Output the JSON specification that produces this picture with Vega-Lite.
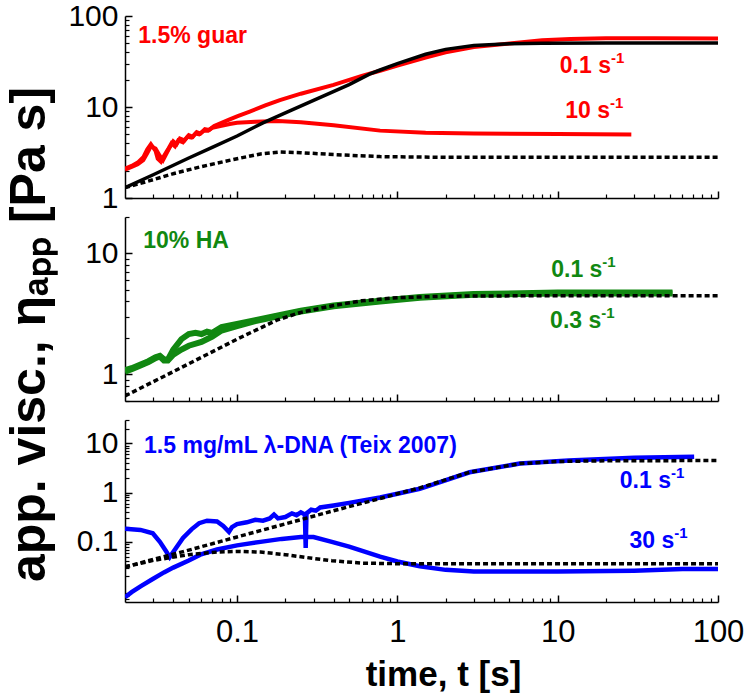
{
  "$schema": "https://vega.github.io/schema/vega-lite/v6.json",
  "autosize": "none",
  "padding": {"left": 125, "top": 16, "right": 32, "bottom": 682},
  "config": {
    "view": {"stroke": null},
    "font": "Liberation Sans",
    "axis": {"grid": false, "domainColor": "black", "domainWidth": 1.5, "tickColor": "black", "labelColor": "black", "titleColor": "black", "labelFont": "Liberation Sans", "titleFont": "Liberation Sans", "labelOverlap": false, "labelFlush": false}
  },
  "datasets": {
    "guar": [
      {"s":"a","t":0.02,"v":2.05},{"s":"a","t":0.022,"v":2.2},{"s":"a","t":0.024,"v":2.35},{"s":"a","t":0.026,"v":2.6},{"s":"a","t":0.0275,"v":3.1},{"s":"a","t":0.029,"v":3.7},{"s":"a","t":0.031,"v":3.5},{"s":"a","t":0.033,"v":2.9},{"s":"a","t":0.0345,"v":2.6},{"s":"a","t":0.036,"v":3.0},{"s":"a","t":0.038,"v":3.6},{"s":"a","t":0.04,"v":4.2},{"s":"a","t":0.042,"v":3.9},{"s":"a","t":0.044,"v":4.5},{"s":"a","t":0.047,"v":4.3},{"s":"a","t":0.05,"v":4.9},{"s":"a","t":0.053,"v":4.7},{"s":"a","t":0.056,"v":5.3},{"s":"a","t":0.059,"v":5.1},{"s":"a","t":0.063,"v":5.7},{"s":"a","t":0.067,"v":5.6},{"s":"a","t":0.072,"v":6.2},{"s":"a","t":0.08,"v":6.7},{"s":"a","t":0.09,"v":7.3},{"s":"a","t":0.1,"v":7.9},{"s":"a","t":0.12,"v":8.9},{"s":"a","t":0.15,"v":10.4},{"s":"a","t":0.185,"v":11.9},{"s":"a","t":0.25,"v":14},{"s":"a","t":0.4,"v":17.5},{"s":"a","t":0.6,"v":22},{"s":"a","t":0.78,"v":25},{"s":"a","t":1,"v":28.5},{"s":"a","t":1.5,"v":35},{"s":"a","t":2,"v":40},{"s":"a","t":3,"v":45.5},{"s":"a","t":5,"v":50},{"s":"a","t":8,"v":54},{"s":"a","t":12,"v":56},{"s":"a","t":20,"v":57},{"s":"a","t":40,"v":57},{"s":"a","t":100,"v":56.5},
      {"s":"b","t":0.02,"v":2.1},{"s":"b","t":0.022,"v":2.25},{"s":"b","t":0.024,"v":2.45},{"s":"b","t":0.026,"v":2.8},{"s":"b","t":0.0275,"v":3.4},{"s":"b","t":0.029,"v":3.9},{"s":"b","t":0.031,"v":3.3},{"s":"b","t":0.032,"v":2.7},{"s":"b","t":0.0335,"v":2.5},{"s":"b","t":0.035,"v":2.9},{"s":"b","t":0.037,"v":3.4},{"s":"b","t":0.039,"v":4.0},{"s":"b","t":0.041,"v":3.7},{"s":"b","t":0.043,"v":4.3},{"s":"b","t":0.046,"v":4.1},{"s":"b","t":0.049,"v":4.7},{"s":"b","t":0.052,"v":4.6},{"s":"b","t":0.055,"v":5.1},{"s":"b","t":0.058,"v":5.0},{"s":"b","t":0.062,"v":5.5},{"s":"b","t":0.066,"v":5.5},{"s":"b","t":0.07,"v":5.9},{"s":"b","t":0.08,"v":6.2},{"s":"b","t":0.09,"v":6.5},{"s":"b","t":0.1,"v":6.7},{"s":"b","t":0.13,"v":6.9},{"s":"b","t":0.18,"v":7.0},{"s":"b","t":0.25,"v":6.8},{"s":"b","t":0.4,"v":6.3},{"s":"b","t":0.78,"v":5.5},{"s":"b","t":1.5,"v":5.2},{"s":"b","t":3,"v":5.1},{"s":"b","t":10,"v":5.05},{"s":"b","t":28.8,"v":5.0}
    ],
    "guarSolid": [
      {"t":0.02,"v":1.3},{"t":0.03,"v":1.8},{"t":0.05,"v":2.75},{"t":0.07,"v":3.6},{"t":0.1,"v":4.8},{"t":0.145,"v":6.7},{"t":0.2,"v":8.6},{"t":0.3,"v":11.8},{"t":0.5,"v":17.6},{"t":0.67,"v":23},{"t":0.78,"v":25.5},{"t":1,"v":30},{"t":1.5,"v":38},{"t":2,"v":43},{"t":3,"v":47.5},{"t":5,"v":49.5},{"t":8,"v":50.2},{"t":20,"v":50.5},{"t":100,"v":50.5}
    ],
    "guarDash": [
      {"t":0.02,"v":1.3},{"t":0.0286,"v":1.55},{"t":0.04,"v":1.85},{"t":0.059,"v":2.2},{"t":0.095,"v":2.65},{"t":0.14,"v":3.05},{"t":0.185,"v":3.2},{"t":0.25,"v":3.15},{"t":0.4,"v":3.0},{"t":0.78,"v":2.85},{"t":2,"v":2.8},{"t":100,"v":2.8}
    ],
    "ha": [
      {"s":"a","t":0.02,"v":1.08},{"s":"a","t":0.022,"v":1.12},{"s":"a","t":0.025,"v":1.2},{"s":"a","t":0.028,"v":1.28},{"s":"a","t":0.031,"v":1.38},{"s":"a","t":0.033,"v":1.42},{"s":"a","t":0.035,"v":1.33},{"s":"a","t":0.037,"v":1.32},{"s":"a","t":0.04,"v":1.6},{"s":"a","t":0.045,"v":1.95},{"s":"a","t":0.05,"v":2.15},{"s":"a","t":0.055,"v":2.2},{"s":"a","t":0.06,"v":2.15},{"s":"a","t":0.065,"v":2.25},{"s":"a","t":0.07,"v":2.2},{"s":"a","t":0.08,"v":2.45},{"s":"a","t":0.1,"v":2.6},{"s":"a","t":0.13,"v":2.8},{"s":"a","t":0.177,"v":3.05},{"s":"a","t":0.25,"v":3.35},{"s":"a","t":0.4,"v":3.7},{"s":"a","t":0.78,"v":4.05},{"s":"a","t":1.38,"v":4.35},{"s":"a","t":3,"v":4.6},{"s":"a","t":10,"v":4.75},{"s":"a","t":52,"v":4.75},
      {"s":"b","t":0.02,"v":1.05},{"s":"b","t":0.022,"v":1.1},{"s":"b","t":0.025,"v":1.18},{"s":"b","t":0.028,"v":1.26},{"s":"b","t":0.031,"v":1.36},{"s":"b","t":0.033,"v":1.4},{"s":"b","t":0.035,"v":1.3},{"s":"b","t":0.037,"v":1.3},{"s":"b","t":0.04,"v":1.45},{"s":"b","t":0.045,"v":1.6},{"s":"b","t":0.05,"v":1.72},{"s":"b","t":0.06,"v":1.85},{"s":"b","t":0.07,"v":2.05},{"s":"b","t":0.08,"v":2.3},{"s":"b","t":0.1,"v":2.5},{"s":"b","t":0.13,"v":2.75},{"s":"b","t":0.177,"v":3.0},{"s":"b","t":0.25,"v":3.3},{"s":"b","t":0.4,"v":3.65},{"s":"b","t":0.78,"v":4.0},{"s":"b","t":1.38,"v":4.3},{"s":"b","t":3,"v":4.55},{"s":"b","t":10,"v":4.65},{"s":"b","t":52,"v":4.65}
    ],
    "haDash": [
      {"t":0.02,"v":0.66},{"t":0.05,"v":1.22},{"t":0.1,"v":1.95},{"t":0.177,"v":2.8},{"t":0.25,"v":3.25},{"t":0.4,"v":3.7},{"t":0.6,"v":4.05},{"t":1,"v":4.3},{"t":2,"v":4.42},{"t":5,"v":4.45},{"t":100,"v":4.45}
    ],
    "dna": [
      {"s":"a","t":0.02,"v":0.185},{"s":"a","t":0.025,"v":0.175},{"s":"a","t":0.0298,"v":0.15},{"s":"a","t":0.033,"v":0.1},{"s":"a","t":0.036,"v":0.065},{"s":"a","t":0.038,"v":0.049},{"s":"a","t":0.041,"v":0.07},{"s":"a","t":0.046,"v":0.12},{"s":"a","t":0.052,"v":0.18},{"s":"a","t":0.058,"v":0.24},{"s":"a","t":0.065,"v":0.27},{"s":"a","t":0.075,"v":0.26},{"s":"a","t":0.082,"v":0.21},{"s":"a","t":0.089,"v":0.16},{"s":"a","t":0.093,"v":0.2},{"s":"a","t":0.1,"v":0.23},{"s":"a","t":0.115,"v":0.25},{"s":"a","t":0.13,"v":0.28},{"s":"a","t":0.145,"v":0.27},{"s":"a","t":0.16,"v":0.3},{"s":"a","t":0.17,"v":0.36},{"s":"a","t":0.18,"v":0.3},{"s":"a","t":0.2,"v":0.32},{"s":"a","t":0.22,"v":0.38},{"s":"a","t":0.235,"v":0.35},{"s":"a","t":0.25,"v":0.4},{"s":"a","t":0.265,"v":0.36},{"s":"a","t":0.268,"v":0.075},{"s":"a","t":0.271,"v":0.38},{"s":"a","t":0.29,"v":0.45},{"s":"a","t":0.31,"v":0.43},{"s":"a","t":0.33,"v":0.5},{"s":"a","t":0.4,"v":0.55},{"s":"a","t":0.5,"v":0.62},{"s":"a","t":0.78,"v":0.8},{"s":"a","t":1,"v":0.95},{"s":"a","t":1.38,"v":1.2},{"s":"a","t":2.82,"v":2.6},{"s":"a","t":5.8,"v":3.9},{"s":"a","t":11.7,"v":4.5},{"s":"a","t":30,"v":5.1},{"s":"a","t":71,"v":5.4},
      {"s":"b","t":0.02,"v":0.0075},{"s":"b","t":0.022,"v":0.0095},{"s":"b","t":0.025,"v":0.0125},{"s":"b","t":0.0298,"v":0.0176},{"s":"b","t":0.035,"v":0.024},{"s":"b","t":0.04,"v":0.03},{"s":"b","t":0.05,"v":0.042},{"s":"b","t":0.059,"v":0.055},{"s":"b","t":0.075,"v":0.07},{"s":"b","t":0.1,"v":0.085},{"s":"b","t":0.14,"v":0.1},{"s":"b","t":0.19,"v":0.115},{"s":"b","t":0.25,"v":0.125},{"s":"b","t":0.3,"v":0.125},{"s":"b","t":0.39,"v":0.1},{"s":"b","t":0.5,"v":0.08},{"s":"b","t":0.78,"v":0.05},{"s":"b","t":1,"v":0.04},{"s":"b","t":1.38,"v":0.032},{"s":"b","t":2,"v":0.027},{"s":"b","t":3,"v":0.025},{"s":"b","t":5,"v":0.025},{"s":"b","t":10,"v":0.025},{"s":"b","t":30,"v":0.026},{"s":"b","t":60,"v":0.028},{"s":"b","t":100,"v":0.028}
    ],
    "dnaDash": [
      {"s":"a","t":0.02,"v":0.031},{"s":"a","t":0.05,"v":0.068},{"s":"a","t":0.1,"v":0.126},{"s":"a","t":0.2,"v":0.232},{"s":"a","t":0.4,"v":0.43},{"s":"a","t":0.78,"v":0.76},{"s":"a","t":1,"v":0.95},{"s":"a","t":1.38,"v":1.25},{"s":"a","t":2.82,"v":2.6},{"s":"a","t":5.8,"v":3.9},{"s":"a","t":10,"v":4.3},{"s":"a","t":20,"v":4.45},{"s":"a","t":100,"v":4.5},
      {"s":"b","t":0.02,"v":0.031},{"s":"b","t":0.03,"v":0.042},{"s":"b","t":0.05,"v":0.055},{"s":"b","t":0.075,"v":0.062},{"s":"b","t":0.1,"v":0.064},{"s":"b","t":0.14,"v":0.062},{"s":"b","t":0.2,"v":0.055},{"s":"b","t":0.3,"v":0.046},{"s":"b","t":0.39,"v":0.0415},{"s":"b","t":0.6,"v":0.037},{"s":"b","t":1,"v":0.036},{"s":"b","t":100,"v":0.036}
    ],
    "names": [
      {"p":"guar","t":0.0242,"v":50.1,"txt":"1.5% guar"},
      {"p":"ha","t":0.026,"v":11.0,"txt":"10% HA"},
      {"p":"dna","t":0.0263,"v":6.55,"txt":"1.5 mg/mL λ-DNA (Teix 2007)"}
    ],
    "rates": [
      {"p":"guar","t":21.5,"v":23.8,"txt":"0.1 s","sup":"-1"},
      {"p":"guar","t":21.2,"v":7.5,"txt":"10 s","sup":"-1"},
      {"p":"ha","t":19.0,"v":6.42,"txt":"0.1 s","sup":"-1"},
      {"p":"ha","t":18.7,"v":2.39,"txt":"0.3 s","sup":"-1"},
      {"p":"dna","t":50.9,"v":1.25,"txt":"0.1 s","sup":"-1"},
      {"p":"dna","t":53.4,"v":0.0743,"txt":"30 s","sup":"-1"}
    ]
  },
  "vconcat": [
    {
      "width": 593, "height": 182,
      "resolve": {"axis": {"x": "independent", "y": "independent"}},
      "layer": [
        {
          "data": {"name": "guar"},
          "mark": {"type": "line", "color": "#ff0000", "strokeWidth": 4, "clip": true},
          "encoding": {
            "x": {"field": "t", "type": "quantitative", "scale": {"type": "log", "domain": [0.02, 100], "nice": false},
                  "axis": {"orient": "bottom", "values": [0.1, 1, 10, 100], "labels": false, "title": null, "tickSize": -7, "tickWidth": 1.5}},
            "y": {"field": "v", "type": "quantitative", "scale": {"type": "log", "domain": [1, 100], "nice": false},
                  "axis": {"orient": "left", "values": [1, 10, 100], "format": "~g", "labelFontSize": 30, "labelPadding": 14, "tickSize": -7, "tickWidth": 1.5, "title": null}},
            "detail": {"field": "s"}
          }
        },
        {
          "data": {"name": "guarDash"},
          "mark": {"type": "line", "color": "black", "strokeWidth": 3.5, "strokeDash": [5, 3], "clip": true},
          "encoding": {
            "x": {"field": "t", "type": "quantitative", "scale": {"type": "log", "domain": [0.02, 100], "nice": false},
                  "axis": {"orient": "bottom", "values": [0.03,0.04,0.05,0.06,0.07,0.08,0.09,0.2,0.3,0.4,0.5,0.6,0.7,0.8,0.9,2,3,4,5,6,7,8,9,20,30,40,50,60,70,80,90], "labels": false, "domain": false, "title": null, "tickSize": -4, "tickWidth": 1.2}},
            "y": {"field": "v", "type": "quantitative", "scale": {"type": "log", "domain": [1, 100], "nice": false},
                  "axis": {"orient": "left", "values": [2,3,4,5,6,7,8,9,20,30,40,50,60,70,80,90], "labels": false, "domain": false, "title": null, "tickSize": -4, "tickWidth": 1.2}}
          }
        },
        {
          "data": {"name": "guarSolid"},
          "mark": {"type": "line", "color": "black", "strokeWidth": 3.5, "clip": true},
          "encoding": {
            "x": {"field": "t", "type": "quantitative", "scale": {"type": "log", "domain": [0.02, 100], "nice": false}, "axis": null},
            "y": {"field": "v", "type": "quantitative", "scale": {"type": "log", "domain": [1, 100], "nice": false}, "axis": null}
          }
        },
        {
          "data": {"name": "names"},
          "transform": [{"filter": "datum.p === 'guar'"}],
          "mark": {"type": "text", "color": "#ff0000", "fontSize": 23, "fontWeight": "bold", "align": "left", "baseline": "alphabetic"},
          "encoding": {
            "x": {"field": "t", "type": "quantitative", "scale": {"type": "log", "domain": [0.02, 100], "nice": false}, "axis": null},
            "y": {"field": "v", "type": "quantitative", "scale": {"type": "log", "domain": [1, 100], "nice": false}, "axis": null},
            "text": {"field": "txt"}
          }
        },
        {
          "data": {"name": "rates"},
          "transform": [{"filter": "datum.p === 'guar'"}],
          "mark": {"type": "text", "color": "#ff0000", "fontSize": 23, "fontWeight": "bold", "align": "right", "baseline": "alphabetic"},
          "encoding": {
            "x": {"field": "t", "type": "quantitative", "scale": {"type": "log", "domain": [0.02, 100], "nice": false}, "axis": null},
            "y": {"field": "v", "type": "quantitative", "scale": {"type": "log", "domain": [1, 100], "nice": false}, "axis": null},
            "text": {"field": "txt"}
          }
        },
        {
          "data": {"name": "rates"},
          "transform": [{"filter": "datum.p === 'guar'"}],
          "mark": {"type": "text", "color": "#ff0000", "fontSize": 15, "fontWeight": "bold", "align": "left", "baseline": "alphabetic", "dy": -10},
          "encoding": {
            "x": {"field": "t", "type": "quantitative", "scale": {"type": "log", "domain": [0.02, 100], "nice": false}, "axis": null},
            "y": {"field": "v", "type": "quantitative", "scale": {"type": "log", "domain": [1, 100], "nice": false}, "axis": null},
            "text": {"field": "sup"}
          }
        }
      ]
    },
    {
      "width": 593, "height": 184,
      "resolve": {"axis": {"x": "independent", "y": "independent"}},
      "layer": [
        {
          "data": {"name": "ha"},
          "mark": {"type": "line", "color": "#118811", "strokeWidth": 6, "clip": true},
          "encoding": {
            "x": {"field": "t", "type": "quantitative", "scale": {"type": "log", "domain": [0.02, 100], "nice": false},
                  "axis": {"orient": "bottom", "values": [0.1, 1, 10, 100], "labels": false, "title": null, "tickSize": -7, "tickWidth": 1.5}},
            "y": {"field": "v", "type": "quantitative", "scale": {"type": "log", "domain": [0.6, 20], "nice": false},
                  "axis": {"orient": "left", "values": [1, 10], "format": "~g", "labelFontSize": 30, "labelPadding": 14, "tickSize": -7, "tickWidth": 1.5,
                           "title": "app. visc., ηₐₚₚ [Pa s]", "titleFontSize": 50, "titleFontWeight": "bold", "titleX": -81, "titleY": 117, "titleAngle": -90, "titleAlign": "center", "titleBaseline": "alphabetic"}},
            "detail": {"field": "s"}
          }
        },
        {
          "data": {"name": "haDash"},
          "mark": {"type": "line", "color": "black", "strokeWidth": 3.5, "strokeDash": [5, 3], "clip": true},
          "encoding": {
            "x": {"field": "t", "type": "quantitative", "scale": {"type": "log", "domain": [0.02, 100], "nice": false},
                  "axis": {"orient": "bottom", "values": [0.03,0.04,0.05,0.06,0.07,0.08,0.09,0.2,0.3,0.4,0.5,0.6,0.7,0.8,0.9,2,3,4,5,6,7,8,9,20,30,40,50,60,70,80,90], "labels": false, "domain": false, "title": null, "tickSize": -4, "tickWidth": 1.2}},
            "y": {"field": "v", "type": "quantitative", "scale": {"type": "log", "domain": [0.6, 20], "nice": false},
                  "axis": {"orient": "left", "values": [0.6,0.7,0.8,0.9,2,3,4,5,6,7,8,9,20], "labels": false, "domain": false, "title": null, "tickSize": -4, "tickWidth": 1.2}}
          }
        },
        {
          "data": {"name": "names"},
          "transform": [{"filter": "datum.p === 'ha'"}],
          "mark": {"type": "text", "color": "#118811", "fontSize": 23, "fontWeight": "bold", "align": "left", "baseline": "alphabetic"},
          "encoding": {
            "x": {"field": "t", "type": "quantitative", "scale": {"type": "log", "domain": [0.02, 100], "nice": false}, "axis": null},
            "y": {"field": "v", "type": "quantitative", "scale": {"type": "log", "domain": [0.6, 20], "nice": false}, "axis": null},
            "text": {"field": "txt"}
          }
        },
        {
          "data": {"name": "rates"},
          "transform": [{"filter": "datum.p === 'ha'"}],
          "mark": {"type": "text", "color": "#118811", "fontSize": 23, "fontWeight": "bold", "align": "right", "baseline": "alphabetic"},
          "encoding": {
            "x": {"field": "t", "type": "quantitative", "scale": {"type": "log", "domain": [0.02, 100], "nice": false}, "axis": null},
            "y": {"field": "v", "type": "quantitative", "scale": {"type": "log", "domain": [0.6, 20], "nice": false}, "axis": null},
            "text": {"field": "txt"}
          }
        },
        {
          "data": {"name": "rates"},
          "transform": [{"filter": "datum.p === 'ha'"}],
          "mark": {"type": "text", "color": "#118811", "fontSize": 15, "fontWeight": "bold", "align": "left", "baseline": "alphabetic", "dy": -10},
          "encoding": {
            "x": {"field": "t", "type": "quantitative", "scale": {"type": "log", "domain": [0.02, 100], "nice": false}, "axis": null},
            "y": {"field": "v", "type": "quantitative", "scale": {"type": "log", "domain": [0.6, 20], "nice": false}, "axis": null},
            "text": {"field": "sup"}
          }
        }
      ]
    },
    {
      "width": 593, "height": 182,
      "resolve": {"axis": {"x": "independent", "y": "independent"}},
      "layer": [
        {
          "data": {"name": "dna"},
          "mark": {"type": "line", "color": "#0000ff", "strokeWidth": 4.5, "clip": true},
          "encoding": {
            "x": {"field": "t", "type": "quantitative", "scale": {"type": "log", "domain": [0.02, 100], "nice": false},
                  "axis": {"orient": "bottom", "values": [0.1, 1, 10, 100], "format": "~g", "labelFontSize": 31, "labelPadding": 22, "tickSize": -7, "tickWidth": 1.5,
                           "title": "time, t [s]", "titleFontSize": 35, "titleFontWeight": "bold", "titleX": 318, "titleY": 83, "titleAlign": "center", "titleBaseline": "alphabetic"}},
            "y": {"field": "v", "type": "quantitative", "scale": {"type": "log", "domain": [0.006, 30], "nice": false},
                  "axis": {"orient": "left", "values": [0.1, 1, 10], "format": "~g", "labelFontSize": 30, "labelPadding": 14, "tickSize": -7, "tickWidth": 1.5, "title": null}},
            "detail": {"field": "s"}
          }
        },
        {
          "data": {"name": "dnaDash"},
          "mark": {"type": "line", "color": "black", "strokeWidth": 3.5, "strokeDash": [5, 3], "clip": true},
          "encoding": {
            "x": {"field": "t", "type": "quantitative", "scale": {"type": "log", "domain": [0.02, 100], "nice": false},
                  "axis": {"orient": "bottom", "values": [0.03,0.04,0.05,0.06,0.07,0.08,0.09,0.2,0.3,0.4,0.5,0.6,0.7,0.8,0.9,2,3,4,5,6,7,8,9,20,30,40,50,60,70,80,90], "labels": false, "domain": false, "title": null, "tickSize": -4, "tickWidth": 1.2}},
            "y": {"field": "v", "type": "quantitative", "scale": {"type": "log", "domain": [0.006, 30], "nice": false},
                  "axis": {"orient": "left", "values": [0.007,0.008,0.009,0.02,0.03,0.04,0.05,0.06,0.07,0.08,0.09,0.2,0.3,0.4,0.5,0.6,0.7,0.8,0.9,2,3,4,5,6,7,8,9,20,30], "labels": false, "domain": false, "title": null, "tickSize": -4, "tickWidth": 1.2}},
            "detail": {"field": "s"}
          }
        },
        {
          "data": {"name": "names"},
          "transform": [{"filter": "datum.p === 'dna'"}],
          "mark": {"type": "text", "color": "#0000ff", "fontSize": 23, "fontWeight": "bold", "align": "left", "baseline": "alphabetic"},
          "encoding": {
            "x": {"field": "t", "type": "quantitative", "scale": {"type": "log", "domain": [0.02, 100], "nice": false}, "axis": null},
            "y": {"field": "v", "type": "quantitative", "scale": {"type": "log", "domain": [0.006, 30], "nice": false}, "axis": null},
            "text": {"field": "txt"}
          }
        },
        {
          "data": {"name": "rates"},
          "transform": [{"filter": "datum.p === 'dna'"}],
          "mark": {"type": "text", "color": "#0000ff", "fontSize": 23, "fontWeight": "bold", "align": "right", "baseline": "alphabetic"},
          "encoding": {
            "x": {"field": "t", "type": "quantitative", "scale": {"type": "log", "domain": [0.02, 100], "nice": false}, "axis": null},
            "y": {"field": "v", "type": "quantitative", "scale": {"type": "log", "domain": [0.006, 30], "nice": false}, "axis": null},
            "text": {"field": "txt"}
          }
        },
        {
          "data": {"name": "rates"},
          "transform": [{"filter": "datum.p === 'dna'"}],
          "mark": {"type": "text", "color": "#0000ff", "fontSize": 15, "fontWeight": "bold", "align": "left", "baseline": "alphabetic", "dy": -10},
          "encoding": {
            "x": {"field": "t", "type": "quantitative", "scale": {"type": "log", "domain": [0.02, 100], "nice": false}, "axis": null},
            "y": {"field": "v", "type": "quantitative", "scale": {"type": "log", "domain": [0.006, 30], "nice": false}, "axis": null},
            "text": {"field": "sup"}
          }
        }
      ]
    }
  ],
  "spacing": 19,
  "bounds": "flush"
}
